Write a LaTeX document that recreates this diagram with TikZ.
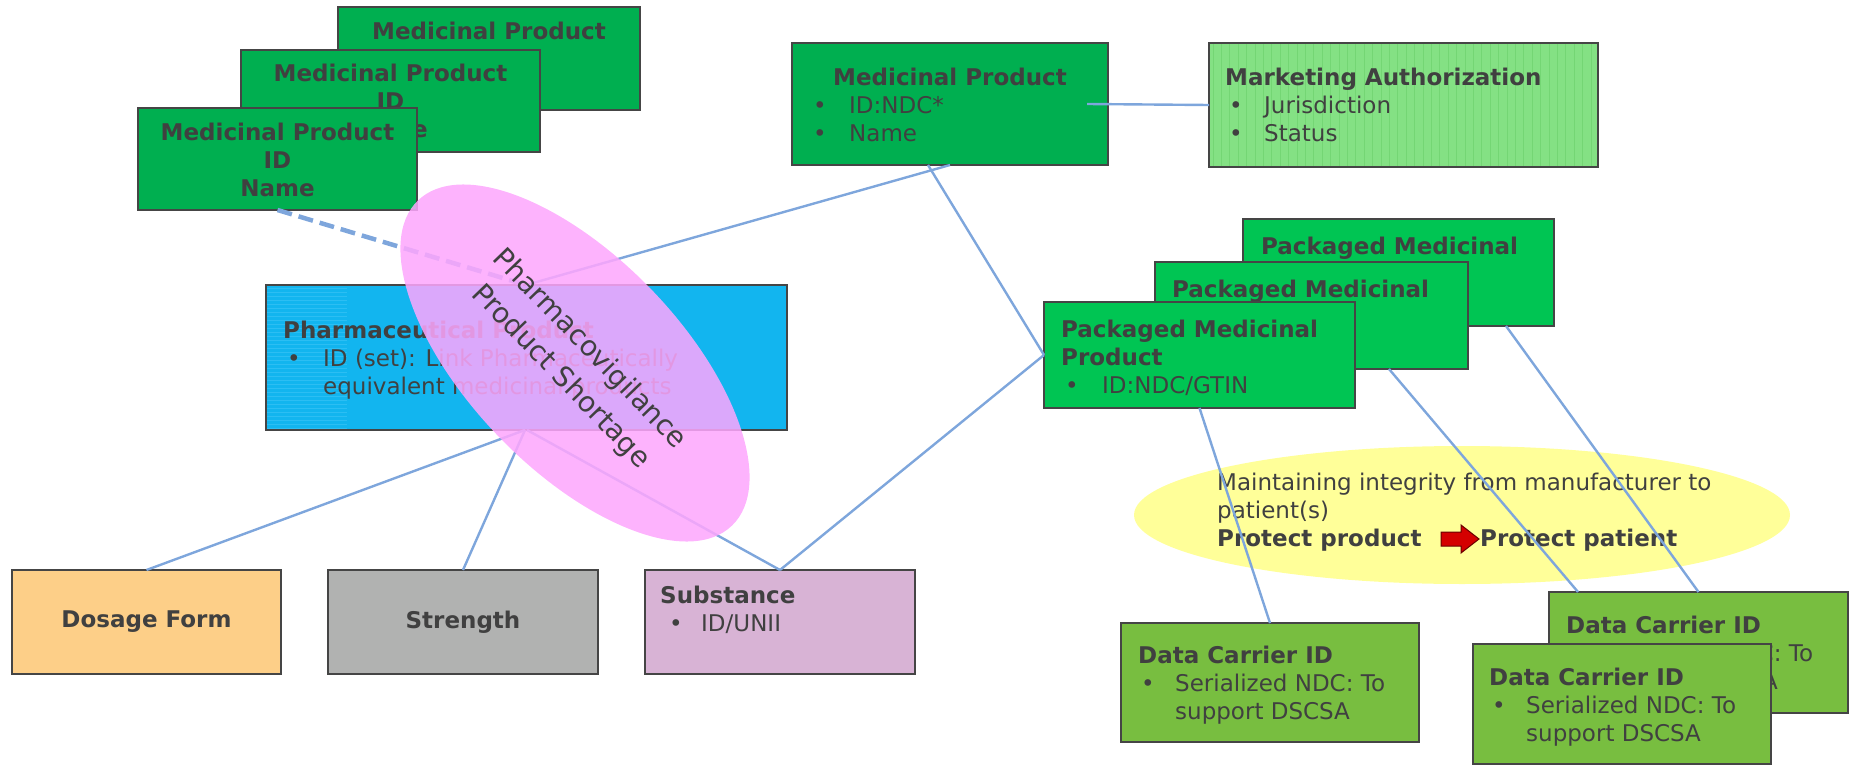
\documentclass[tikz,border=0pt]{standalone}
\usepackage{fontspec}
\setmainfont{DejaVu Sans}
\usetikzlibrary{shapes.geometric}

\definecolor{ink}{HTML}{404040}
\definecolor{edge}{HTML}{454545}
\definecolor{link}{HTML}{7EA6DC}
\definecolor{mpgreen}{HTML}{00AF50}
\definecolor{pkgreen}{HTML}{00C553}
\definecolor{magreen}{HTML}{84E184}
\definecolor{mastripe}{HTML}{74D674}
\definecolor{dcgreen}{HTML}{78BE40}
\definecolor{ppblue}{HTML}{12B5EF}
\definecolor{ppstripe}{HTML}{2CBEF3}
\definecolor{dosage}{HTML}{FDCF88}
\definecolor{strength}{HTML}{B1B2B1}
\definecolor{substance}{HTML}{D8B3D5}
\definecolor{note}{HTML}{FFFF99}
\definecolor{pvpink}{HTML}{FDA6FD}
\definecolor{arrowred}{HTML}{D40000}
\definecolor{arrowrim}{HTML}{6A0000}

% multi-line text blocks whose baseline is the first line
\newcommand{\lstack}[1]{\begin{tabular}[t]{@{}l@{}}#1\end{tabular}}
\newcommand{\cstack}[1]{\begin{tabular}[t]{@{}c@{}}#1\end{tabular}}
\newcommand{\itm}[2][35pt]{\makebox[#1][l]{•}#2}

\begin{document}
\begin{tikzpicture}[x=1pt,y=-1pt,
  box/.style={draw=edge, line width=1.3pt, inner sep=0pt, outer sep=0pt, anchor=north west,
    text=ink, font=\fontsize{23}{28}\selectfont\bfseries},
  txt/.style={inner sep=0pt, anchor=base west, text=ink,
    font=\fontsize{23}{28}\selectfont},
  conn/.style={draw=link, line width=2.4pt},
  dashconn/.style={draw=link, line width=4.5pt, dash pattern=on 15pt off 7pt}]

\path[use as bounding box] (0,0) rectangle (1856,765);

% supply-chain note behind the connectors
\node[ellipse, fill=note, minimum width=656, minimum height=138, inner sep=0pt] (note) at (1462,515) {};

% stacked medicinal product records
\node[box, fill=mpgreen, minimum width=302, minimum height=103] (mpC) at (338,7) {};
\node[txt, anchor=base] (mpCt) at (489,40) {\cstack{\textbf{Medicinal Product}\\\textbf{ID}\\\textbf{Name}}};
\node[box, fill=mpgreen, minimum width=299, minimum height=102] (mpB) at (241,50) {};
\node[txt, anchor=base] (mpBt) at (390.5,82) {\cstack{\textbf{Medicinal Product}\\\textbf{ID}\\\textbf{Name}}};
\node[box, fill=mpgreen, minimum width=279, minimum height=102] (mpA) at (138,108) {};
\node[txt, anchor=base] (mpAt) at (277.5,141) {\cstack{\textbf{Medicinal Product}\\\textbf{ID}\\\textbf{Name}}};

% medicinal product and its authorization
\node[box, fill=mpgreen, minimum width=316, minimum height=122] (mp) at (792,43) {};
\node[txt] (mpt) at (813,86) {\lstack{\hspace*{20pt}\textbf{Medicinal Product}\\\itm[36pt]{ID:NDC*}\\\itm[36pt]{Name}}};

\node[box, draw=none, fill=magreen, minimum width=389, minimum height=124] (ma) at (1209,43) {};
\foreach \i in {0,...,45} \draw[mastripe, line width=1pt] (1213+\i*8.4,44) -- (1213+\i*8.4,166);
\draw[edge, line width=1.3pt] (ma.north west) rectangle (ma.south east);
\node[txt] (mat) at (1225,86) {\lstack{\textbf{Marketing Authorization}\\\hspace*{4pt}\itm{Jurisdiction}\\\hspace*{4pt}\itm{Status}}};

% pharmaceutical product
\node[box, fill=ppblue, minimum width=521, minimum height=145] (pp) at (266,285) {};
\foreach \y in {288,292,...,428} \draw[ppstripe, line width=0.8pt] (267,\y) -- (347,\y);
\node[txt] (ppt) at (283,338) {\lstack{\textbf{Pharmaceutical Product}\\\hspace*{4pt}\itm[36pt]{ID (set): Link Pharmaceutically}\\\hspace*{40pt}equivalent medicinal products}};

% components
\node[box, fill=dosage, minimum width=269, minimum height=104] (dg) at (12,570) {Dosage Form};
\node[box, fill=strength, minimum width=270, minimum height=104] (st) at (328,570) {Strength};
\node[box, fill=substance, minimum width=270, minimum height=104] (sb) at (645,570) {};
\node[txt] (sbt) at (660,603) {\lstack{\textbf{Substance}\\\hspace*{9pt}\itm[32pt]{ID/UNII}}};

% stacked packaged medicinal products
\node[box, fill=pkgreen, minimum width=311, minimum height=107] (pb) at (1243,219) {};
\node[txt] (pbt) at (1261,254) {\lstack{\textbf{Packaged Medicinal}\\\textbf{Product}}};
\node[box, fill=pkgreen, minimum width=313, minimum height=107] (pm) at (1155,262) {};
\node[txt] (pmt) at (1172,297) {\lstack{\textbf{Packaged Medicinal}\\\textbf{Product}}};
\node[box, fill=pkgreen, minimum width=311, minimum height=106] (pf) at (1044,302) {};
\node[txt] (pft) at (1061,337) {\lstack{\textbf{Packaged Medicinal}\\\textbf{Product}\\\hspace*{4pt}\itm[37pt]{ID:NDC/GTIN}}};

% data carriers
\node[box, fill=dcgreen, minimum width=298, minimum height=119] (dc1) at (1121,623) {};
\node[txt] (dc1t) at (1138,663) {\lstack{\textbf{Data Carrier ID}\\\hspace*{3pt}\itm[34pt]{Serialized NDC: To}\\\hspace*{37pt}support DSCSA}};
\node[box, fill=dcgreen, minimum width=299, minimum height=121] (dcb) at (1549,592) {};
\node[txt] (dcbt) at (1566,633) {\lstack{\textbf{Data Carrier ID}\\\hspace*{3pt}\itm[34pt]{Serialized NDC: To}\\\hspace*{37pt}support DSCSA}};
\node[box, fill=dcgreen, minimum width=298, minimum height=120] (dcf) at (1473,644) {};
\node[txt] (dcft) at (1489,685) {\lstack{\textbf{Data Carrier ID}\\\hspace*{3pt}\itm[34pt]{Serialized NDC: To}\\\hspace*{37pt}support DSCSA}};

% note text and arrow
\node[txt] (notet) at (1217,490) {\lstack{Maintaining integrity from manufacturer to\\patient(s)\\\makebox[263pt][l]{\textbf{Protect product}}\textbf{Protect patient}}};
\filldraw[fill=arrowred, draw=arrowrim, line width=1pt]
  (1441,532) -- (1461,532) -- (1461,525) -- (1479,539) -- (1461,553) -- (1461,546) -- (1441,546) -- cycle;

% connectors
\draw[conn] ([xshift=-21pt]mp.east) -- (ma.west);
\draw[dashconn] (mpA.south) -- ([xshift=260pt]pp.north west);
\draw[conn] ([xshift=260pt]pp.north west) -- ([xshift=158pt]mp.south west);
\draw[conn] ([xshift=136pt]mp.south west) -- (pf.west);
\draw[conn] ([xshift=259pt]pp.south west) -- (dg.north);
\draw[conn] ([xshift=259pt]pp.south west) -- (st.north);
\draw[conn] ([xshift=261pt]pp.south west) -- (sb.north);
\draw[conn] (sb.north) -- (pf.west);
\draw[conn] (pf.south) -- (dc1.north);
\draw[conn] ([xshift=234pt]pm.south west) -- ([xshift=29pt]dcb.north west);
\draw[conn] ([xshift=263pt]pb.south west) -- (dcb.north);

% translucent theme overlay
\node[ellipse, fill=pvpink, fill opacity=0.86, text opacity=1, text=ink, rotate=-46,
  minimum width=452, minimum height=212, inner sep=0pt, align=center,
  font=\fontsize{28}{40}\selectfont] (pv) at (575,363) {Pharmacovigilance\\Product Shortage};
\end{tikzpicture}
\end{document}
